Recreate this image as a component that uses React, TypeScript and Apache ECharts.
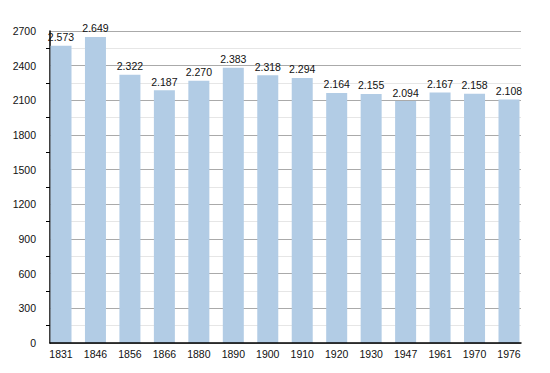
import React, { useEffect, useRef } from "react";
import * as echarts from "echarts";

const years = ["1831", "1846", "1856", "1866", "1880", "1890", "1900", "1910", "1920", "1930", "1947", "1961", "1970", "1976"];
const population = [2573, 2649, 2322, 2187, 2270, 2383, 2318, 2294, 2164, 2155, 2094, 2167, 2158, 2108];

const fmt = (v: number) => {
  const s = String(v);
  return s.length > 3 ? s.slice(0, s.length - 3) + "." + s.slice(-3) : s;
};

export default function App() {
  const ref = useRef<HTMLDivElement>(null);
  useEffect(() => {
    document.body.style.margin = "0";
    const chart = echarts.init(ref.current!, null, { renderer: "svg" });
    const font = "Liberation Sans, Arial, sans-serif";
    chart.setOption({
      animation: false,
      backgroundColor: "#ffffff",
      grid: [
        { left: 50, right: 29, top: 31, bottom: 30 },
        { left: 43.77, right: 23.77, top: 31, bottom: 30 },
      ],
      xAxis: [
        {
          type: "category",
          gridIndex: 0,
          data: years,
          axisLine: { show: true, lineStyle: { color: "#000", width: 1.5 } },
          axisTick: { show: false },
          axisLabel: { show: false },
          splitLine: { show: false },
          z: 5,
        },
        {
          type: "category",
          gridIndex: 1,
          data: years,
          axisLine: { show: false },
          axisTick: { show: false },
          axisLabel: { color: "#111", fontSize: 10.5, fontFamily: font, margin: 5 },
        },
      ],
      yAxis: [
        {
          type: "value",
          gridIndex: 0,
          min: 0,
          max: 2700,
          interval: 300,
          axisLine: { show: true, lineStyle: { color: "#000", width: 1.5 } },
          axisTick: { show: false },
          minorTick: { show: true, splitNumber: 2, length: 4, lineStyle: { color: "#000" } },
          minorSplitLine: { show: true, lineStyle: { color: "#e6e6e6" } },
          splitLine: { show: true, lineStyle: { color: "#aaaaaa" } },
          axisLabel: {
            color: "#111",
            fontSize: 10.5,
            fontFamily: font,
            margin: 14,
            formatter: (v: number) => String(v),
          },
        },
        {
          type: "value",
          gridIndex: 1,
          min: 0,
          max: 2700,
          interval: 300,
          show: false,
          splitLine: { show: false },
        },
      ],
      series: [
        {
          type: "bar",
          xAxisIndex: 1,
          yAxisIndex: 1,
          data: population,
          barWidth: 21,
          itemStyle: { color: "#b2cce5" },
          label: {
            show: true,
            position: "top",
            distance: 3,
            color: "#111",
            fontSize: 10.5,
            fontFamily: font,
            formatter: (p: any) => fmt(p.value),
          },
        },
      ],
    });
    return () => chart.dispose();
  }, []);
  return <div ref={ref} style={{ width: 550, height: 373 }} />;
}
